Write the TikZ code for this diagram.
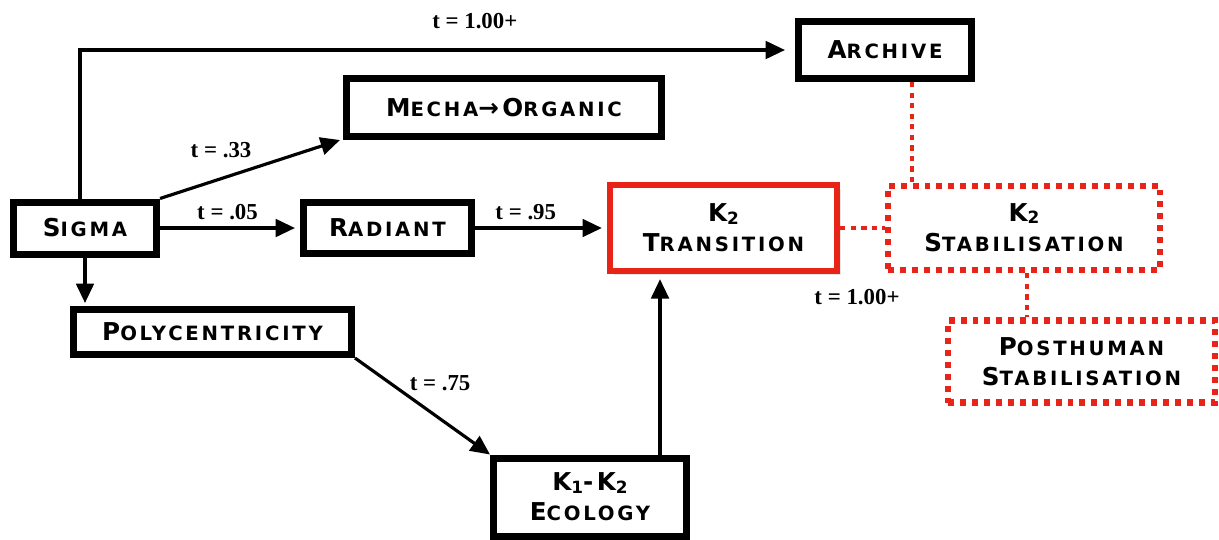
\documentclass[tikz,border=0pt]{standalone}
\usepackage{fontspec}
\usetikzlibrary{arrows.meta,shadows}
\newfontfamily\boxfont[LetterSpace=14]{DejaVu Sans}
\newfontfamily\labelfont{Liberation Serif}
\definecolor{kred}{RGB}{232,36,24}
\newcommand{\scw}[2]{{\fontsize{7}{8.5}\selectfont#1}{\fontsize{5.6}{8.5}\selectfont#2}}
\newcommand{\ksub}[1]{\raisebox{-0.6pt}{\fontsize{4.8}{5}\selectfont#1}}
\tikzset{
  stage/.style={draw, line width=2pt, fill=white, inner sep=0pt, align=center,
    font=\boxfont\bfseries\fontsize{7}{8.5}\selectfont,
    drop shadow={opacity=0.2, shadow xshift=1pt, shadow yshift=-1pt}},
  keystage/.style={stage, draw=kred, line width=1.8pt},
  openstage/.style={draw=kred, line width=1.8pt, dash pattern=on 1.7pt off 1.7pt,
    fill=white, inner sep=0pt, align=center,
    font=\boxfont\bfseries\fontsize{7}{8.5}\selectfont},
  flow/.style={line width=0.9pt, -{Triangle[length=5.5pt,width=5pt]}},
  link/.style={draw=kred, line width=1.4pt, dash pattern=on 1.5pt off 1.5pt},
  tlabel/.style={font=\labelfont\bfseries\fontsize{6.5}{7}\selectfont, inner sep=1pt}
}
\begin{document}
\begin{tikzpicture}
    \useasboundingbox[fill=white] (0,0) rectangle (12.19,-5.39);

    \node[stage, minimum width=1.43cm, minimum height=0.52cm] (sigma) at (0.85,-2.28) {\scw{S}{IGMA}};
    \node[stage, minimum width=3.15cm, minimum height=0.58cm] (mecha) at (5.04,-1.075) {\scw{M}{ECHA}{\fontsize{7}{8.5}\selectfont→}\scw{O}{RGANIC}};
    \node[stage, minimum width=1.68cm, minimum height=0.51cm] (radiant) at (3.875,-2.28) {\scw{R}{ADIANT}};
    \node[stage, minimum width=1.73cm, minimum height=0.57cm] (archive) at (8.85,-0.50) {\scw{A}{RCHIVE}};
    \node[keystage, minimum width=2.27cm, minimum height=0.86cm] (trans) at (7.235,-2.28) {K\ksub{2}\\\scw{T}{RANSITION}};
    \node[openstage, minimum width=2.72cm, minimum height=0.84cm] (stab) at (10.24,-2.28) {K\ksub{2}\\\scw{S}{TABILISATION}};
    \node[openstage, minimum width=2.67cm, minimum height=0.82cm] (posthuman) at (10.815,-3.615) {\scw{P}{OSTHUMAN}\\\scw{S}{TABILISATION}};
    \node[stage, minimum width=2.78cm, minimum height=0.45cm] (poly) at (2.125,-3.32) {\scw{P}{OLYCENTRICITY}};
    \node[stage, minimum width=1.93cm, minimum height=0.78cm] (ecology) at (5.9,-4.97) {K\ksub{1}-K\ksub{2}\\\scw{E}{COLOGY}};

    % black flows
    \draw[flow] ([xshift=-0.05cm]sigma.north) |- ([xshift=-0.1cm]archive.west)
        node[tlabel, pos=0.78, above=4.5pt] {t = 1.00+};
    \draw[flow] (sigma.north east) -- ([xshift=-0.03cm]mecha.south west)
        node[tlabel, pos=0.3, above=5pt, xshift=2pt] {t = .33};
    \draw[flow] (sigma.east) -- ([xshift=-0.05cm]radiant.west)
        node[tlabel, midway, above=1pt] {t = .05};
    \draw[flow] (radiant.east) -- ([xshift=-0.05cm]trans.west)
        node[tlabel, pos=0.4, above=1pt] {t = .95};
    \draw[flow] (sigma.south) -- ([yshift=0.03cm]sigma.south |- poly.north);
    \draw[flow] (poly.south east) -- (ecology.north west)
        node[tlabel, midway, above=3pt, xshift=5pt] {t = .75};
    \draw[flow] ([xshift=0.7cm]ecology.north) -- ([xshift=0.7cm,yshift=-0.05cm]ecology.north |- trans.south);

    % red dotted links
    \draw[link] (trans.east) -- (stab.west);
    \draw[link] ([xshift=0.27cm]archive.south) -- ([xshift=0.27cm]archive.south |- stab.north);
    \draw[link] ([xshift=0.03cm]stab.south) -- ([xshift=0.03cm]stab.south |- posthuman.north);

    \node[tlabel] (late) at (8.57,-2.97) {t = 1.00+};
\end{tikzpicture}
\end{document}
